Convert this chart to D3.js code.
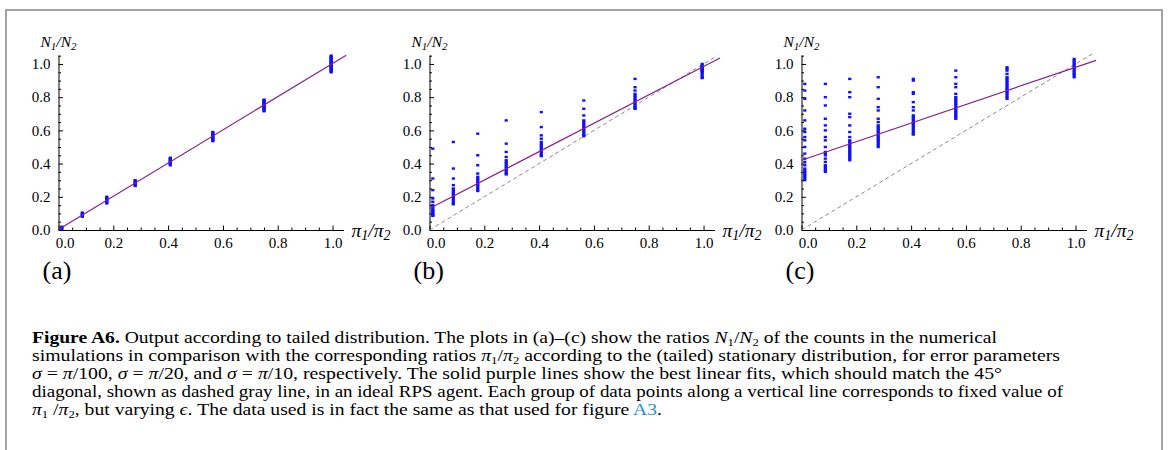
<!DOCTYPE html>
<html><head><meta charset="utf-8">
<script src="https://cdn.jsdelivr.net/npm/d3@7"></script>
<style>
html,body{margin:0;padding:0;background:#fff;}
svg{display:block;}
</style></head>
<body>
<svg id="chart" width="1168" height="450"></svg>
<script>
// ---------- data ----------
const ratioX = [0.012, 0.087, 0.176, 0.28, 0.408, 0.563, 0.75, 0.995];
const xTickLabels = ["0.0", "0.2", "0.4", "0.6", "0.8", "1.0"];
const yTickLabels = ["0.0", "0.2", "0.4", "0.6", "0.8", "1.0"];
const panelLabels = ["(a)", "(b)", "(c)"];

// sigma = pi/100
const countsA = [
  [0.005, 0.01, 0.015, 0.02],
  [0.08, 0.085, 0.09, 0.095, 0.10, 0.105],
  [0.16, 0.165, 0.17, 0.175, 0.18, 0.185, 0.19, 0.195, 0.20],
  [0.265, 0.27, 0.275, 0.28, 0.285, 0.29, 0.295, 0.30],
  [0.39, 0.395, 0.40, 0.405, 0.41, 0.415, 0.42, 0.425, 0.43, 0.435],
  [0.535, 0.54, 0.545, 0.55, 0.555, 0.56, 0.565, 0.57, 0.575, 0.58, 0.585, 0.59],
  [0.715, 0.72, 0.725, 0.73, 0.735, 0.74, 0.745, 0.75, 0.755, 0.76, 0.765, 0.77, 0.775, 0.78, 0.785],
  [0.95, 0.955, 0.96, 0.965, 0.97, 0.975, 0.98, 0.985, 0.99, 0.995, 1.0, 1.005, 1.01, 1.015, 1.02, 1.025, 1.03, 1.035, 1.04, 1.045, 1.05]
];
// sigma = pi/20
const countsB = [
  [0.49, 0.31, 0.24, 0.19, 0.17, 0.15, 0.14, 0.13, 0.12, 0.115, 0.11, 0.10, 0.095, 0.09, 0.085],
  [0.53, 0.37, 0.31, 0.27, 0.25, 0.24, 0.23, 0.22, 0.21, 0.20, 0.19, 0.18, 0.17, 0.16, 0.155],
  [0.58, 0.45, 0.39, 0.34, 0.32, 0.31, 0.30, 0.29, 0.28, 0.27, 0.26, 0.25, 0.24, 0.235],
  [0.66, 0.52, 0.47, 0.44, 0.42, 0.41, 0.40, 0.39, 0.38, 0.37, 0.36, 0.35, 0.34, 0.335],
  [0.71, 0.62, 0.57, 0.55, 0.53, 0.52, 0.51, 0.50, 0.49, 0.48, 0.47, 0.46, 0.45, 0.445],
  [0.78, 0.73, 0.69, 0.66, 0.65, 0.64, 0.63, 0.62, 0.61, 0.60, 0.59, 0.58, 0.57, 0.565],
  [0.91, 0.86, 0.84, 0.82, 0.81, 0.80, 0.79, 0.78, 0.77, 0.76, 0.75, 0.74, 0.735, 0.73],
  [1.0, 0.99, 0.985, 0.98, 0.975, 0.97, 0.965, 0.96, 0.955, 0.95, 0.94, 0.93, 0.92, 0.915]
];
// sigma = pi/10
const countsC = [
  [0.88, 0.84, 0.79, 0.72, 0.66, 0.61, 0.59, 0.56, 0.54, 0.50, 0.46, 0.43, 0.41, 0.39, 0.37, 0.36, 0.35, 0.34, 0.33, 0.32, 0.31, 0.30],
  [0.88, 0.80, 0.75, 0.67, 0.63, 0.60, 0.56, 0.54, 0.50, 0.47, 0.46, 0.45, 0.43, 0.41, 0.39, 0.38, 0.37, 0.36, 0.35],
  [0.91, 0.83, 0.80, 0.70, 0.68, 0.63, 0.59, 0.56, 0.54, 0.53, 0.52, 0.51, 0.50, 0.49, 0.48, 0.47, 0.46, 0.45, 0.44, 0.43, 0.42],
  [0.92, 0.86, 0.79, 0.74, 0.72, 0.67, 0.65, 0.63, 0.62, 0.61, 0.60, 0.59, 0.58, 0.57, 0.56, 0.55, 0.54, 0.53, 0.52, 0.51, 0.50],
  [0.91, 0.90, 0.83, 0.82, 0.77, 0.74, 0.72, 0.69, 0.68, 0.67, 0.66, 0.65, 0.64, 0.63, 0.62, 0.61, 0.60, 0.59, 0.58, 0.575],
  [0.96, 0.92, 0.88, 0.86, 0.82, 0.80, 0.79, 0.78, 0.77, 0.76, 0.75, 0.74, 0.73, 0.72, 0.71, 0.70, 0.69, 0.68, 0.67],
  [0.98, 0.97, 0.96, 0.94, 0.92, 0.91, 0.90, 0.89, 0.88, 0.87, 0.86, 0.85, 0.84, 0.83, 0.82, 0.81, 0.80, 0.79],
  [1.03, 1.02, 1.01, 1.0, 0.99, 0.98, 0.97, 0.96, 0.95, 0.94, 0.93, 0.92]
];
// best linear fits: [intercept, slope]
const fitA = [0.003, 1.0];
const fitB = [0.13, 0.855];
const fitC = [0.42, 0.56];
const fitEnd = [1.05, 1.06, 1.075];
const diagEnd = [null, 1.05, 1.06];

// ---------- layout ----------
const svg = d3.select("#chart");
const serif = "'Liberation Serif','Times New Roman',serif";

svg.append("rect").attr("x", 6).attr("y", 10).attr("width", 1156).attr("height", 460)
  .attr("fill", "none").attr("stroke", "#a3a3a3").attr("stroke-width", 2);

const panelX0 = [58.5, 429.5, 801.5];
const allCounts = [countsA, countsB, countsC];
const allFits = [fitA, fitB, fitC];
const majorVals = xTickLabels.map(Number);
const minorVals = [0.05,0.1,0.15,0.25,0.3,0.35,0.45,0.5,0.55,0.65,0.7,0.75,0.85,0.9,0.95,1.05];

panelX0.forEach((x0, p) => {
  const g = svg.append("g");
  const x = d3.scaleLinear().domain([0, 1.04]).range([x0, x0 + 285]);
  const y = d3.scaleLinear().domain([0, 1.054]).range([230, 55]);

  // minor ticks
  const xMinor = d3.axisBottom(x).tickValues(minorVals.filter(v => v < 1.04)).tickSizeInner(-2.5).tickSizeOuter(0).tickFormat("");
  const yMinor = d3.axisLeft(y).tickValues(minorVals.filter(v => v < 1.054)).tickSizeInner(-2.5).tickSizeOuter(0).tickFormat("");
  g.append("g").attr("transform", "translate(0,230)").call(xMinor).call(s => s.select(".domain").remove());
  g.append("g").attr("transform", `translate(${x0},0)`).call(yMinor).call(s => s.select(".domain").remove());

  // major axes
  const xAxis = d3.axisBottom(x).tickValues(majorVals).tickSizeInner(-4.5).tickSizeOuter(0)
    .tickPadding(7).tickFormat((d, i) => xTickLabels[i]);
  const yAxis = d3.axisLeft(y).tickValues(majorVals).tickSizeInner(-4.5).tickSizeOuter(0)
    .tickPadding(8).tickFormat((d, i) => yTickLabels[i]);
  const gx = g.append("g").attr("transform", "translate(0,230)").call(xAxis);
  const gy = g.append("g").attr("transform", `translate(${x0},0)`).call(yAxis);
  [gx, gy].forEach(a => {
    a.selectAll("text").attr("font-family", serif).attr("font-size", 15).attr("fill", "#000");
    a.selectAll("line,path").attr("stroke", "#000").attr("stroke-width", 1);
  });
  gx.selectAll(".tick").filter(d => d === 0).select("text").attr("dx", 6);
  gy.selectAll(".tick text").attr("dy", "0.32em");

  // diagonal
  if (diagEnd[p] !== null) {
    g.append("path").datum([0, diagEnd[p]])
      .attr("d", d3.line().x(d => x(d)).y(d => y(d)))
      .attr("fill", "none").attr("stroke", "#8c8c8c").attr("stroke-width", 1)
      .attr("stroke-dasharray", "4,3");
  }

  // points
  const pts = [];
  allCounts[p].forEach((grp, i) => grp.forEach(v => pts.push([ratioX[i], v])));
  g.append("g").selectAll("rect").data(pts).join("rect")
    .attr("x", d => x(d[0]) - 1.6).attr("y", d => y(d[1]) - 1.2)
    .attr("width", 3.2).attr("height", 2.4).attr("fill", "#1010ff");

  // fit line
  const f = allFits[p];
  g.append("path").datum([0, fitEnd[p]])
    .attr("d", d3.line().x(d => x(d)).y(d => y(f[0] + f[1] * d)))
    .attr("fill", "none").attr("stroke", "#85208f").attr("stroke-width", 1.2);

  // axis labels
  const yl = g.append("text").attr("x", x0).attr("y", 47).attr("text-anchor", "middle")
    .attr("font-family", serif).attr("font-size", 15.5).attr("font-style", "italic");
  yl.append("tspan").text("N");
  yl.append("tspan").attr("font-size", 11).attr("baseline-shift", "-3").text("1");
  yl.append("tspan").text("/N");
  yl.append("tspan").attr("font-size", 11).attr("baseline-shift", "-3").text("2");

  const xl = g.append("text").attr("x", x0 + 293).attr("y", 237)
    .attr("font-family", serif).attr("font-size", 19.5).attr("font-style", "italic");
  xl.append("tspan").text("π");
  xl.append("tspan").attr("font-size", 14).attr("baseline-shift", "-3").text("1");
  xl.append("tspan").text("/π");
  xl.append("tspan").attr("font-size", 14).attr("baseline-shift", "-3").text("2");

  g.append("text").attr("x", x0 - 16).attr("y", 279)
    .attr("font-family", serif).attr("font-size", 26).text(panelLabels[p]);
});

// ---------- caption ----------
const capX = 32;
const capLines = [
  {y: 343, w: 965, parts: [["b","Figure A6."],["n"," Output according to tailed distribution. The plots in (a)–(c) show the ratios "],["i","N"],["s","1"],["n","/"],["i","N"],["s","2"],["n"," of the counts in the numerical"]]},
  {y: 361, w: 1028, parts: [["n","simulations in comparison with the corresponding ratios "],["i","π"],["s","1"],["n","/"],["i","π"],["s","2"],["n"," according to the (tailed) stationary distribution, for error parameters"]]},
  {y: 379, w: 970, parts: [["i","σ"],["n"," = "],["i","π"],["n","/100, "],["i","σ"],["n"," = "],["i","π"],["n","/20, and "],["i","σ"],["n"," = "],["i","π"],["n","/10, respectively. The solid purple lines show the best linear fits, which should match the 45°"]]},
  {y: 397, w: 1031, parts: [["n","diagonal, shown as dashed gray line, in an ideal RPS agent. Each group of data points along a vertical line corresponds to fixed value of"]]},
  {y: 415, w: 630, parts: [["i","π"],["s","1"],["n"," /"],["i","π"],["s","2"],["n",", but varying "],["i","ϵ"],["n",". The data used is in fact the same as that used for figure "],["l","A3"],["n","."]]}
];
capLines.forEach(line => {
  const t = svg.append("text").attr("x", capX).attr("y", line.y)
    .attr("font-family", serif).attr("font-size", 17).attr("fill", "#000")
    .attr("textLength", line.w).attr("lengthAdjust", "spacingAndGlyphs");
  line.parts.forEach(([k, s]) => {
    const ts = t.append("tspan").text(s);
    if (k === "b") ts.attr("font-weight", "bold");
    if (k === "i") ts.attr("font-style", "italic");
    if (k === "l") ts.attr("fill", "#2a8fcc");
    if (k === "s") ts.attr("font-size", 11).attr("baseline-shift", "-3");
  });
});
</script>
</body></html>
